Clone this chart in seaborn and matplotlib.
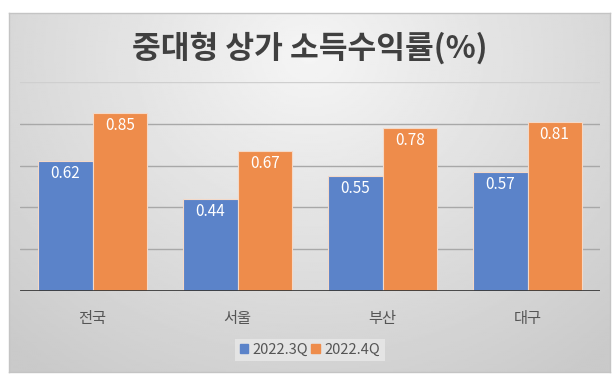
import numpy as np
import pandas as pd
import matplotlib
matplotlib.use("Agg")
import matplotlib.pyplot as plt
import seaborn as sns

title = "중대형 상가 소득수익률(%)"
regions = ["전국", "서울", "부산", "대구"]
quarters = ["2022.3Q", "2022.4Q"]
values_3q = [0.62, 0.44, 0.55, 0.57]
values_4q = [0.85, 0.67, 0.78, 0.81]
bar_colors = ["#5B83C9", "#EE8C4B"]

df = pd.DataFrame({
    "region": regions * 2,
    "quarter": [quarters[0]] * len(regions) + [quarters[1]] * len(regions),
    "value": values_3q + values_4q,
})

sns.set_theme(style="white")
plt.rcParams["font.family"] = ["Noto Sans CJK KR", "DejaVu Sans"]

W, H = 616, 378
fig = plt.figure(figsize=(W / 100, H / 100), dpi=100)
fig.patch.set_facecolor("white")

# gradient chart background
bg = fig.add_axes([9 / W, 6 / H, 601 / W, 359 / H])
yy, xx = np.mgrid[0:1:200j, 0:1:300j]
r = np.sqrt(((xx - 0.5) / 0.75) ** 2 + ((yy - 0.12) / 1.1) ** 2)
shade = 0.96 - 0.17 * np.clip(r, 0, 1)
bg.imshow(shade, cmap="gray", vmin=0, vmax=1, aspect="auto", extent=[0, 1, 0, 1], origin="upper")
bg.set_xticks([])
bg.set_yticks([])
for s in bg.spines.values():
    s.set_color("#c4c4c4")
    s.set_linewidth(1)

ax = fig.add_axes([20 / W, 87 / H, 580 / W, 209 / H])
ax.set_facecolor("none")
sns.barplot(data=df, x="region", y="value", hue="quarter", palette=bar_colors,
            saturation=1, width=0.75, gap=0, edgecolor="#f4d9c8", linewidth=0.8,
            ax=ax, zorder=3)

ax.set_ylim(0, 1.0)
ax.set_xlim(-0.5, 3.5)
for yv in [0.2, 0.4, 0.6, 0.8]:
    ax.axhline(yv, color="#a8a8a8", linewidth=1, zorder=1)
ax.axhline(1.0, color="#cfcfcf", linewidth=1, zorder=1)
ax.axhline(0, color="#3a3a3a", linewidth=2, zorder=4)

for cont in ax.containers:
    ax.bar_label(cont, fmt="%.2f", padding=-15, color="white", fontsize=11, zorder=5)

ax.set_yticks([])
ax.set_xlabel("")
ax.set_ylabel("")
ax.tick_params(axis="x", length=0, pad=14, labelsize=11, labelcolor="#555555")
for s in ax.spines.values():
    s.set_visible(False)

ax.legend_.remove()
handles = [plt.Rectangle((0, 0), 1, 1, color=c) for c in bar_colors]
leg = fig.legend(handles, quarters, loc="center", bbox_to_anchor=(310 / W, 1 - 350 / H),
                 ncol=2, frameon=True, fontsize=10.5, handlelength=0.6, handleheight=0.6,
                 handletextpad=0.3, columnspacing=0.2, borderpad=0.3, fancybox=False)
leg.get_frame().set_facecolor("#e9e9e9")
leg.get_frame().set_edgecolor("none")
for t in leg.get_texts():
    t.set_color("#555555")

fig.text(310 / W, 1 - 48 / H, title, ha="center", va="center", fontsize=22.5,
         fontweight="bold", color="#404040")

fig.savefig("out.png", dpi=100)
